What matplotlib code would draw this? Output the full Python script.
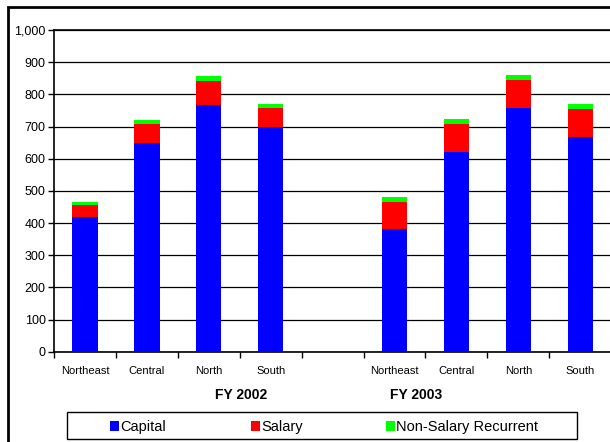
import matplotlib
matplotlib.use("Agg")
import matplotlib.pyplot as plt
from matplotlib.patches import Rectangle
import numpy as np

plt.rcParams['font.family'] = ['Liberation Sans', 'DejaVu Sans']

regions = ["Northeast", "Central", "North", "South"]
groups = ["FY 2002", "FY 2003"]
capital_2002 = [418, 650, 767, 697]
salary_2002 = [37, 58, 75, 61]
nonsal_2002 = [9, 12, 14, 12]
capital_2003 = [380, 622, 758, 667]
salary_2003 = [85, 86, 87, 87]
nonsal_2003 = [16, 15, 15, 16]
series_names = ["Capital", "Salary", "Non-Salary Recurrent"]
colors = ["#0000FF", "#FF0000", "#00FF00"]

W, H = 610, 442
fig = plt.figure(figsize=(W / 100, H / 100), dpi=100)

def fx(px):
    return px / W

def fy(py):
    return 1 - py / H

# outer frame
fig.patches.append(Rectangle((fx(8), -0.1), 1.2, fy(7) + 0.1, transform=fig.transFigure,
                             fill=False, edgecolor="black", linewidth=2))

ax = fig.add_axes([fx(54), fy(351.7), (W - 54) / W + 0.002, (351.7 - 30) / H])

x2002 = np.arange(4)
x2003 = np.arange(4) + 5
width = 0.41

for xs, cap, sal, ns in [(x2002, capital_2002, salary_2002, nonsal_2002),
                         (x2003, capital_2003, salary_2003, nonsal_2003)]:
    cap = np.array(cap); sal = np.array(sal); ns = np.array(ns)
    ax.bar(xs, cap, width, color=colors[0], zorder=3)
    ax.bar(xs, sal, width, bottom=cap, color=colors[1], zorder=3)
    ax.bar(xs, ns, width, bottom=cap + sal, color=colors[2], zorder=3)

ax.set_xlim(-0.5, 8.5)
ax.set_ylim(0, 1000)
ax.set_yticks(np.arange(0, 1001, 100))
ax.set_yticklabels([f"{v:,}" for v in range(0, 1001, 100)], fontsize=9)
ax.yaxis.grid(True, color="black", linewidth=0.9, zorder=0)
ax.set_axisbelow(True)

ax.set_xticks(list(x2002) + list(x2003))
ax.set_xticklabels(regions + regions, fontsize=8)
ax.set_xticks(np.arange(-0.5, 9.0, 1.0), minor=True)
ax.tick_params(axis='x', which='major', length=0, pad=10)
ax.tick_params(axis='x', which='minor', length=4, width=1, color='black')
ax.tick_params(axis='y', length=4, width=1, pad=2)

for s in ["left", "bottom", "top"]:
    ax.spines[s].set_color("black")
    ax.spines[s].set_linewidth(1.2)
ax.spines["right"].set_visible(False)

fig.text(fx(241), fy(395), groups[0], ha="center", va="center", fontsize=10, fontweight="bold")
fig.text(fx(416), fy(395), groups[1], ha="center", va="center", fontsize=10, fontweight="bold")

# manual legend
fig.patches.append(Rectangle((fx(67), fy(439)), fx(577) - fx(67), fy(412) - fy(439),
                             transform=fig.transFigure, fill=False, edgecolor="black", linewidth=1.0))
marker_x = [110, 251, 386]
for mx, c, name in zip(marker_x, colors, series_names):
    fig.patches.append(Rectangle((fx(mx), fy(431)), fx(8.5), 10.5 / H,
                                 transform=fig.transFigure, facecolor=c, edgecolor="none"))
    fig.text(fx(mx + 10.5), fy(431), name, ha="left", va="baseline", fontsize=10.5)

fig.savefig("out.png", dpi=100)
